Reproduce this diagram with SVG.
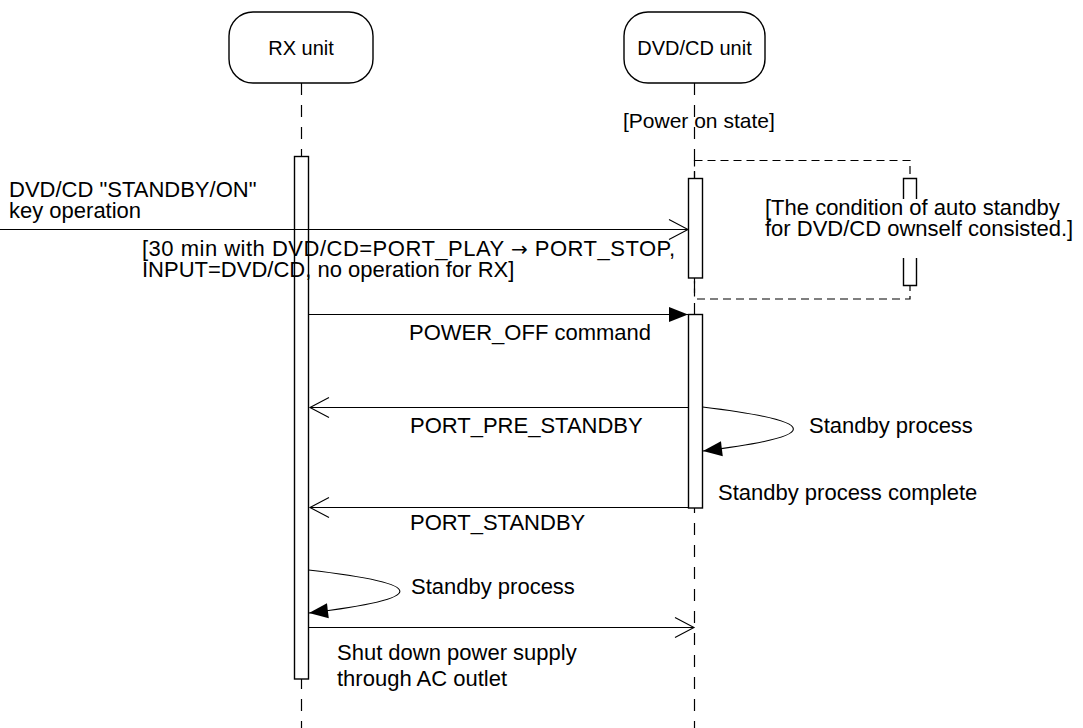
<svg xmlns="http://www.w3.org/2000/svg" width="1083" height="728" viewBox="0 0 1083 728">
<style>
text{font-family:"Liberation Sans",Arial,Helvetica,sans-serif;font-size:22px;fill:#000}
.hdr{font-size:20px;text-anchor:middle}
.node{fill:#fff;stroke:#000;stroke-width:1.4}
.life{stroke:#000;stroke-width:1.2;stroke-dasharray:12 10;fill:none}
.frag{stroke:#000;stroke-width:1.2;stroke-dasharray:8 5;fill:none}
.act{fill:#fff;stroke:#000;stroke-width:1.4}
.msg{stroke:#000;stroke-width:1.1;fill:none}
</style>
<defs>
<marker id="fill" markerUnits="userSpaceOnUse" markerWidth="22" markerHeight="18" refX="19" refY="7.5" orient="auto" overflow="visible">
<path d="M0,0 L19,7.5 L0,15 Z" fill="#000"/>
</marker>
<marker id="open" markerUnits="userSpaceOnUse" markerWidth="22" markerHeight="22" refX="19" refY="10" orient="auto" overflow="visible">
<path d="M0,0 L19,10 L0,20" fill="none" stroke="#000" stroke-width="1.1"/>
</marker>
</defs>
<rect width="1083" height="728" fill="#fff"/>
<g id="lifelines">
<line class="life" x1="301.5" y1="83" x2="301.5" y2="728"/>
<line class="life" x1="694.5" y1="83" x2="694.5" y2="728"/>
</g>
<g id="rx-unit">
<rect class="node" x="229" y="12" width="144" height="71" rx="24" ry="24"/>
<text class="hdr" x="301" y="55">RX unit</text>
</g>
<g id="dvd-unit">
<rect class="node" x="624" y="12" width="141" height="71" rx="24" ry="24"/>
<text class="hdr" x="694.5" y="55">DVD/CD unit</text>
</g>
<g id="power-on-state">
<text x="623" y="128" style="font-size:21px">[Power on state]</text>
</g>
<g id="auto-standby-fragment">
<rect class="frag" x="694.5" y="160.5" width="215.5" height="138.5"/>
<rect x="903" y="178" width="14" height="108" fill="#fff"/>
<path class="act" d="M903.5,199 L903.5,178.5 L916.5,178.5 L916.5,199"/>
<path class="act" d="M903.5,258 L903.5,285.5 L916.5,285.5 L916.5,258"/>
<text x="765" y="214.5">[The condition of auto standby</text>
<text x="765" y="235.5">for DVD/CD ownself consisted.]</text>
</g>
<g id="activations">
<rect class="act" x="294.5" y="156.5" width="14" height="522.5"/>
<rect class="act" x="688.5" y="178.5" width="14" height="99.5"/>
<rect class="act" x="688.5" y="314.5" width="14" height="193.5"/>
</g>
<g id="connectors">
<line class="msg" x1="0" y1="229.5" x2="688" y2="229.5" marker-end="url(#open)"/>
<line class="msg" x1="308.5" y1="314.5" x2="688" y2="314.5" marker-end="url(#fill)"/>
<line class="msg" x1="688" y1="407.5" x2="310" y2="407.5" marker-end="url(#open)"/>
<path class="msg" d="M702.5,407 Q884,429 703,451" marker-end="url(#fill)"/>
<line class="msg" x1="688" y1="507.5" x2="310" y2="507.5" marker-end="url(#open)"/>
<path class="msg" d="M308.5,570 Q491,591 309,613" marker-end="url(#fill)"/>
<line class="msg" x1="308.5" y1="627.5" x2="694" y2="627.5" marker-end="url(#open)"/>
</g>
<g id="labels">
<text x="9" y="197">DVD/CD "STANDBY/ON"</text>
<text x="9" y="218">key operation</text>
<text x="142" y="256" textLength="533" lengthAdjust="spacing">[30 min with DVD/CD=PORT_PLAY <tspan style="font-family:'DejaVu Sans',sans-serif;font-size:20px">→</tspan> PORT_STOP,</text>
<text x="142" y="277">INPUT=DVD/CD, no operation for RX]</text>
<text x="409" y="340">POWER_OFF command</text>
<text x="410" y="433">PORT_PRE_STANDBY</text>
<text x="809" y="433">Standby process</text>
<text x="718" y="500">Standby process complete</text>
<text x="410" y="530">PORT_STANDBY</text>
<text x="411" y="594">Standby process</text>
<text x="337" y="660">Shut down power supply</text>
<text x="337" y="686">through AC outlet</text>
</g>
</svg>
